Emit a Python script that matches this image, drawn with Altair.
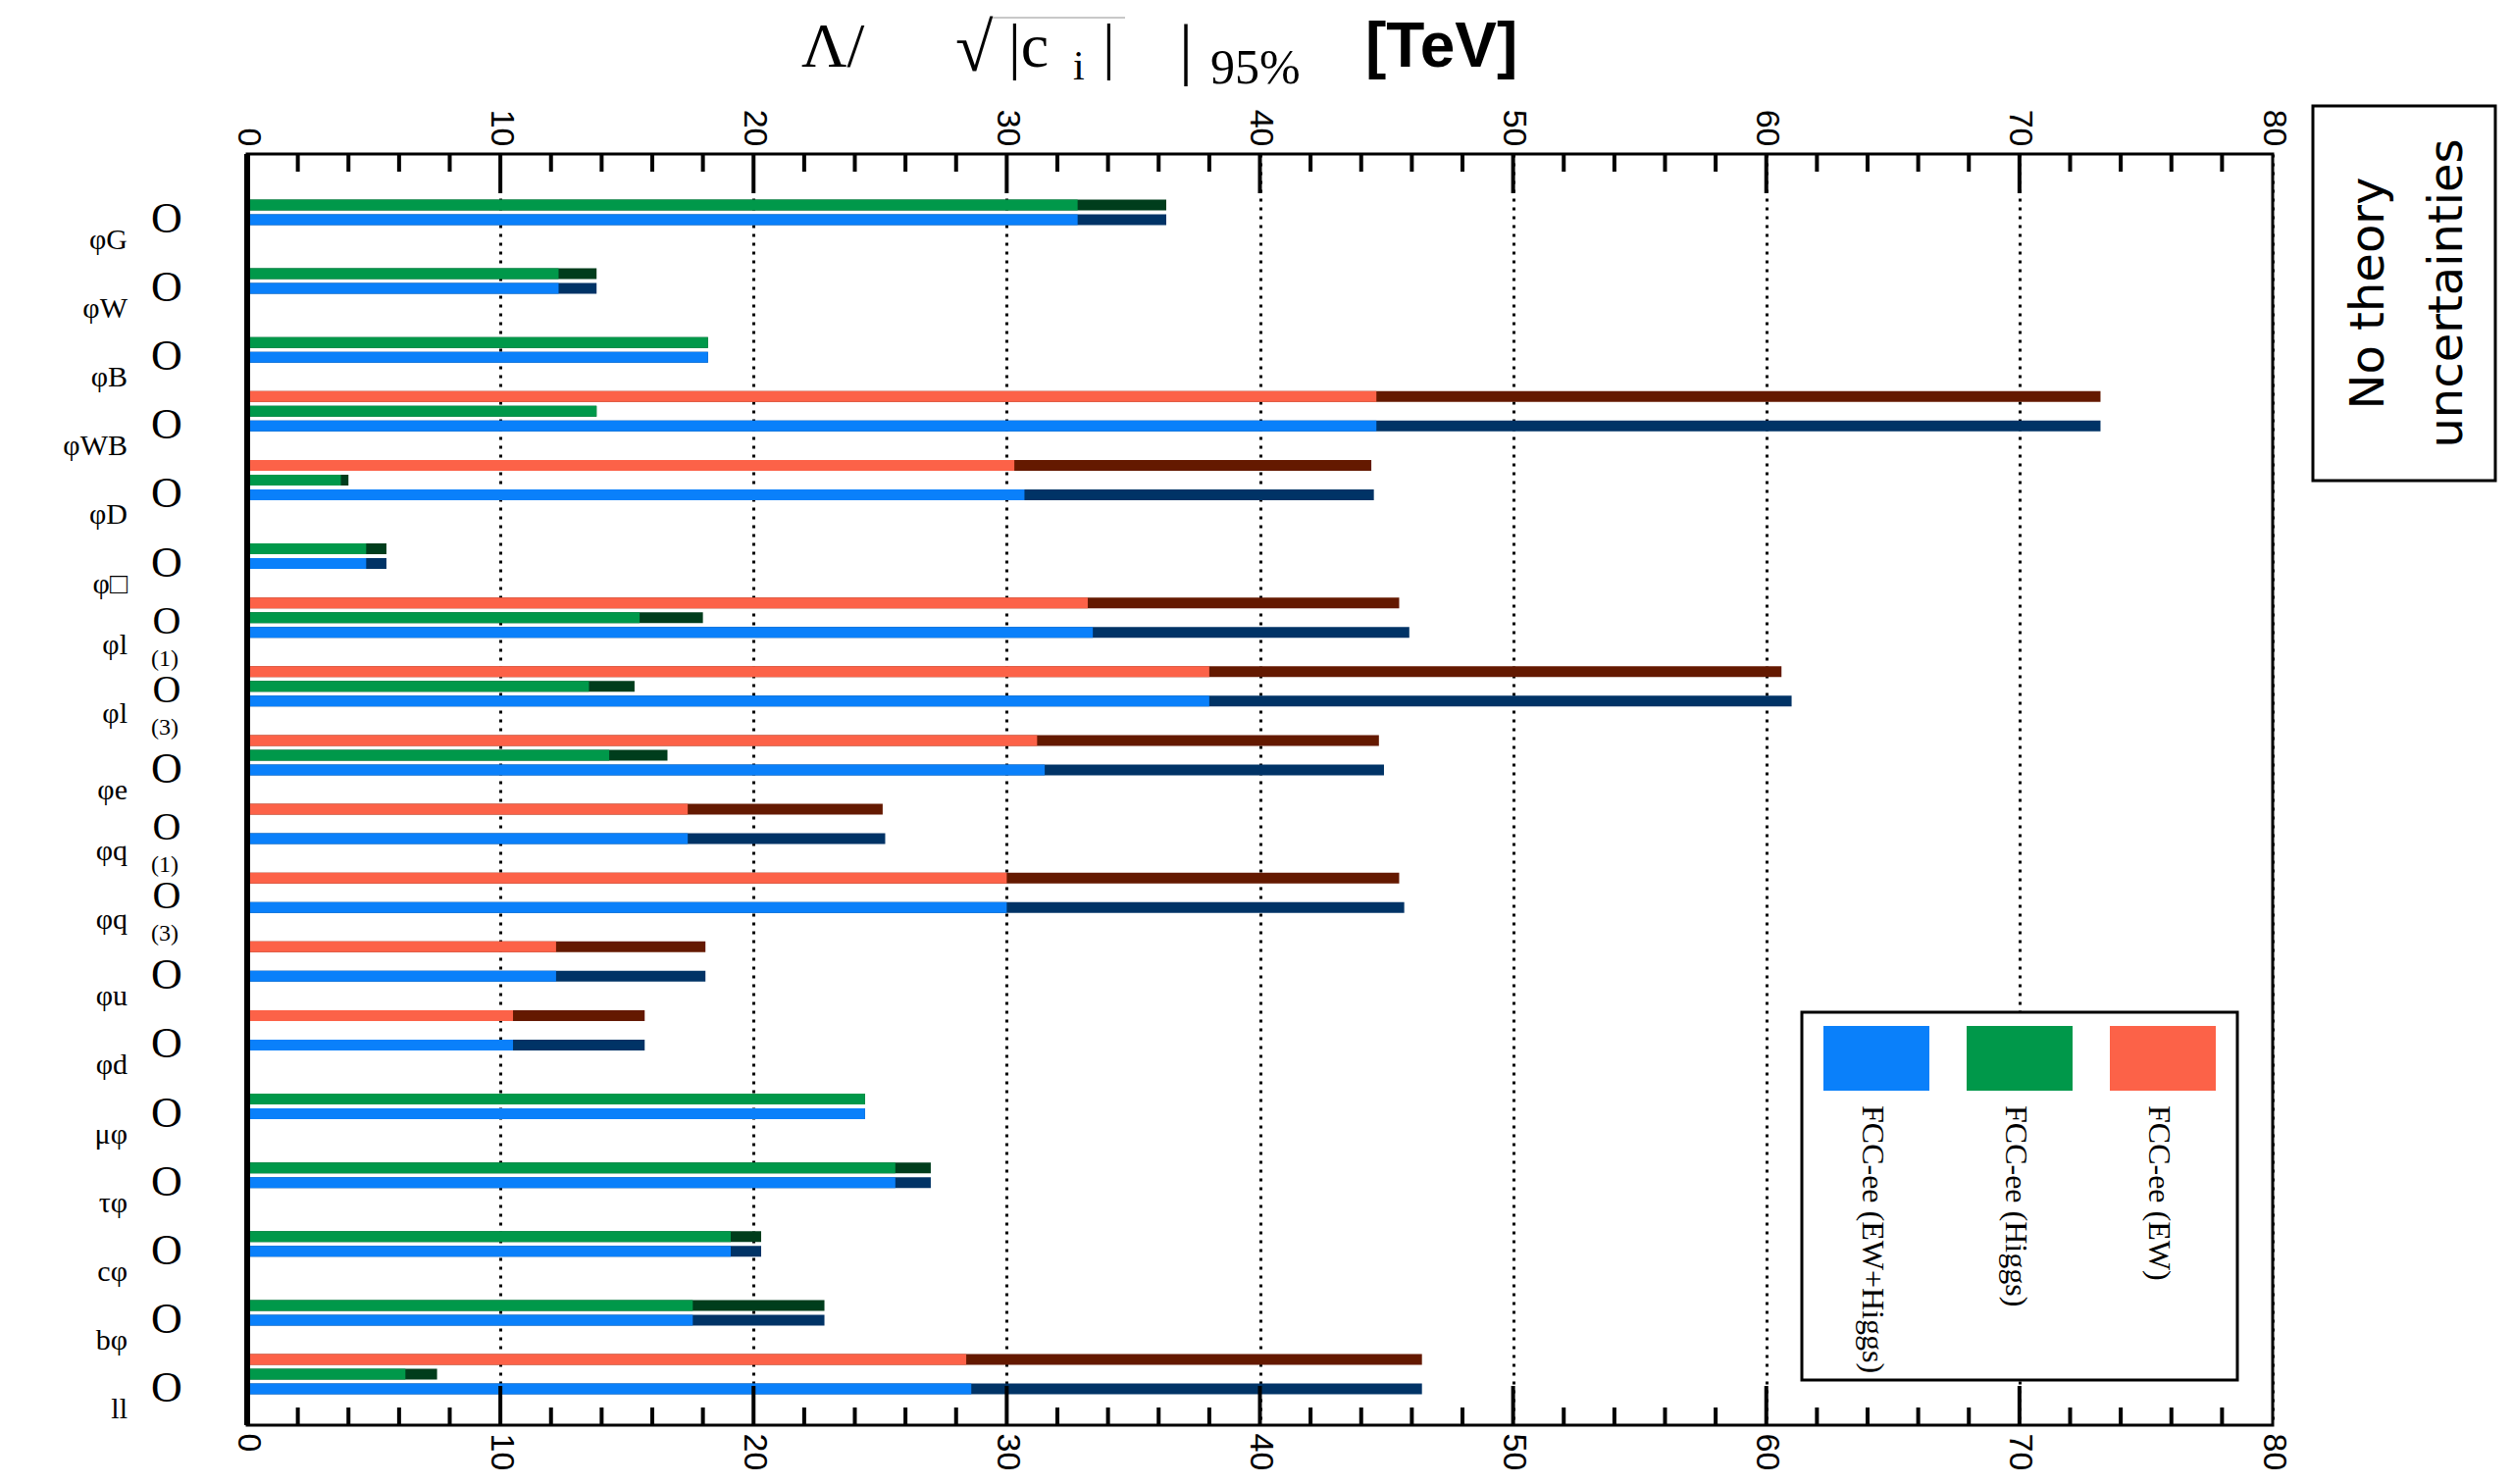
import altair as alt
import pandas as pd

# ---------------- data ----------------
label_sub = ["φG", "φW", "φB", "φWB", "φD", "φ□", "φl", "φl", "φe", "φq", "φq",
             "φu", "φd", "μφ", "τφ", "cφ", "bφ", "ll"]
label_sup = ["", "", "", "", "", "", "(1)", "(3)", "", "(1)", "(3)",
             "", "", "", "", "", "", ""]
series_names = ["FCC-ee (EW)", "FCC-ee (Higgs)", "FCC-ee (EW+Higgs)"]

ew_inner = [None, None, None, 44.6, 30.3, None, 33.2, 38.0, 31.2, 17.4, 30.0,
            12.2, 10.5, None, None, None, None, 28.4]
ew_outer = [None, None, None, 73.2, 44.4, None, 45.5, 60.6, 44.7, 25.1, 45.5,
            18.1, 15.7, None, None, None, None, 46.4]
higgs_inner = [32.8, 12.3, 18.2, 13.8, 3.7, 4.7, 15.5, 13.5, 14.3, None, None,
               None, None, 24.4, 25.6, 19.1, 17.6, 6.25]
higgs_outer = [36.3, 13.8, 18.2, 13.8, 4.0, 5.5, 18.0, 15.3, 16.6, None, None,
               None, None, 24.4, 27.0, 20.3, 22.8, 7.5]
comb_inner = [32.8, 12.3, 18.2, 44.6, 30.7, 4.7, 33.4, 38.0, 31.5, 17.4, 30.0,
              12.2, 10.5, 24.4, 25.6, 19.1, 17.6, 28.6]
comb_outer = [36.3, 13.8, 18.2, 73.2, 44.5, 5.5, 45.9, 61.0, 44.9, 25.2, 45.7,
              18.1, 15.7, 24.4, 27.0, 20.3, 22.8, 46.4]

tick_values = [0, 10, 20, 30, 40, 50, 60, 70, 80]
major_ticks = [10, 20, 30, 40, 50, 60, 70]
minor_ticks = [2, 4, 6, 8, 12, 14, 16, 18, 22, 24, 26, 28, 32, 34, 36, 38,
               42, 44, 46, 48, 52, 54, 56, 58, 62, 64, 66, 68, 72, 74, 76, 78]

# ---------------- styles ----------------
light_colors = ["#FC6248", "#00984A", "#0A80FA"]
dark_colors = ["#641900", "#003D1C", "#003366"]
slot_offsets = [-15, 0, 15]

W, H = 2065, 1296
keys = [s + p for s, p in zip(label_sub, label_sup)]

rows = []
inner_lists = [ew_inner, higgs_inner, comb_inner]
outer_lists = [ew_outer, higgs_outer, comb_outer]
for i, k in enumerate(keys):
    for s, inn, out in zip(series_names, inner_lists, outer_lists):
        if inn[i] is not None:
            rows.append({"key": k, "series": s, "inner": inn[i], "outer": out[i]})
df = pd.DataFrame(rows)

lab = pd.DataFrame({"key": keys, "sub": label_sub, "sup": label_sup,
                    "has": [1 if p else 0 for p in label_sup]})
one = pd.DataFrame({"d": [0]})

xscale = alt.Scale(domain=[0, 80], nice=False, zero=True)
Y = alt.Y("key:N", sort=keys, scale=alt.Scale(domain=keys, paddingInner=0, paddingOuter=0.24), axis=None)

axis_common = dict(values=tick_values, labelAngle=90, labelFont="Liberation Sans",
                   labelFontSize=34, labelColor="black", labelFlush=False,
                   labelOverlap=False, ticks=False, domain=False, title=None,
                   labelPadding=8)
top_axis = alt.Axis(orient="top", labelAlign="right", labelBaseline="middle",
                    grid=True, gridColor="black", gridDash=[3, 6], gridWidth=3,
                    gridOpacity=1, **axis_common)
bottom_axis = alt.Axis(orient="bottom", labelAlign="left", labelBaseline="middle",
                       grid=False, **axis_common)

layers = []
for si, name in enumerate(series_names):
    sel = alt.datum.series == name
    layers.append(alt.Chart(df).transform_filter(sel).mark_bar(
        color=dark_colors[si], height=11, yOffset=slot_offsets[si]
    ).encode(x=alt.X("outer:Q", scale=xscale, axis=top_axis if si == 0 else None), y=Y))
    layers.append(alt.Chart(df).transform_filter(sel).mark_bar(
        color=light_colors[si], height=11, yOffset=slot_offsets[si]
    ).encode(x=alt.X("inner:Q", scale=xscale, axis=None), y=Y))

# inward ticks (top and bottom)
minor_df = pd.DataFrame({"v": minor_ticks})
major_df = pd.DataFrame({"v": major_ticks})
layers.append(alt.Chart(minor_df).mark_rule(color="black", strokeWidth=4).encode(
    x=alt.X("v:Q", scale=xscale, axis=bottom_axis), y=alt.value(H), y2=alt.value(H - 18)))
layers.append(alt.Chart(minor_df).mark_rule(color="black", strokeWidth=4).encode(
    x=alt.X("v:Q", scale=xscale, axis=None), y=alt.value(0), y2=alt.value(18)))
layers.append(alt.Chart(major_df).mark_rule(color="black", strokeWidth=4).encode(
    x=alt.X("v:Q", scale=xscale, axis=None), y=alt.value(0), y2=alt.value(40)))
layers.append(alt.Chart(major_df).mark_rule(color="black", strokeWidth=4).encode(
    x=alt.X("v:Q", scale=xscale, axis=None), y=alt.value(H), y2=alt.value(H - 40)))
# thick left axis line
layers.append(alt.Chart(one).mark_rule(color="black", strokeWidth=6).encode(
    x=alt.value(0), y=alt.value(0), y2=alt.value(H)))

# category labels
plain = alt.datum.has == 0
withsup = alt.datum.has == 1
layers.append(alt.Chart(lab).transform_filter(plain).mark_text(
    font="Liberation Serif", fontSize=44, align="center", baseline="middle", dy=15, color="black"
).encode(y=Y, x=alt.value(-82), text=alt.value("O")))
layers.append(alt.Chart(lab).transform_filter(withsup).mark_text(
    font="Liberation Serif", fontSize=40, align="center", baseline="middle", dy=4, color="black"
).encode(y=Y, x=alt.value(-82), text=alt.value("O")))
layers.append(alt.Chart(lab).transform_filter(plain).mark_text(
    font="Liberation Serif", fontSize=30, align="right", baseline="middle", dy=36, color="black"
).encode(y=Y, x=alt.value(-122), text="sub:N"))
layers.append(alt.Chart(lab).transform_filter(withsup).mark_text(
    font="Liberation Serif", fontSize=30, align="right", baseline="middle", dy=28, color="black"
).encode(y=Y, x=alt.value(-122), text="sub:N"))
layers.append(alt.Chart(lab).transform_filter(withsup).mark_text(
    font="Liberation Serif", fontSize=24, align="center", baseline="middle", dy=42, color="black"
).encode(y=Y, x=alt.value(-84), text="sup:N"))

# axis title pieces
title_parts = [
    ("Λ/", 565, -89, "Liberation Serif", 64, "normal"),
    ("√", 722, -85, "Liberation Serif", 70, "normal"),
    ("|c", 776, -89, "Liberation Serif", 64, "normal"),
    ("i", 842, -76, "Liberation Serif", 42, "normal"),
    ("|", 872, -89, "Liberation Serif", 64, "normal"),
    ("|", 950, -84, "Liberation Serif", 70, "normal"),
    ("95%", 982, -72, "Liberation Serif", 50, "normal"),
    ("[TeV]", 1140, -89, "Liberation Sans", 64, "bold"),
]
for t, tx, ty, f, fs, fw in title_parts:
    layers.append(alt.Chart(one).mark_text(
        font=f, fontSize=fs, fontWeight=fw, align="left", baseline="alphabetic", color="black"
    ).encode(x=alt.value(tx), y=alt.value(ty), text=alt.value(t)))
layers.append(alt.Chart(one).mark_rule(color="#c8c8c8", strokeWidth=2).encode(
    x=alt.value(760), x2=alt.value(895), y=alt.value(-139)))

# legend
layers.append(alt.Chart(one).mark_rect(fill="white", stroke="black", strokeWidth=3).encode(
    x=alt.value(1585), x2=alt.value(2029), y=alt.value(875), y2=alt.value(1250)))
legend_order = [2, 1, 0]
for j, si in enumerate(legend_order):
    x0 = 1607 + j * 146
    layers.append(alt.Chart(one).mark_rect(color=light_colors[si]).encode(
        x=alt.value(x0), x2=alt.value(x0 + 108), y=alt.value(889), y2=alt.value(955)))
    layers.append(alt.Chart(one).mark_text(
        font="Liberation Serif", fontSize=32, angle=90, align="left", baseline="middle", color="black"
    ).encode(x=alt.value(x0 + 50), y=alt.value(970), text=alt.value(series_names[si])))

# "No theory uncertainties" box
layers.append(alt.Chart(one).mark_rect(fill="white", stroke="black", strokeWidth=3).encode(
    x=alt.value(2106), x2=alt.value(2292), y=alt.value(-49), y2=alt.value(333)))
layers.append(alt.Chart(one).mark_text(
    font="DejaVu Sans", fontSize=48, angle=270, align="center", baseline="middle",
    lineHeight=80, color="black"
).encode(x=alt.value(2164), y=alt.value(142), text=alt.value(["No theory", "uncertainties"])))

chart = alt.layer(*layers).resolve_axis(x="independent").properties(
    width=W, height=H,
    autosize=alt.AutoSizeParams(type="none"),
    padding={"left": 244, "top": 149, "right": 234, "bottom": 46},
    background="white",
).configure_view(stroke="black", strokeWidth=3)

chart.save("out.html", embed_options={"renderer": "svg", "actions": False})
